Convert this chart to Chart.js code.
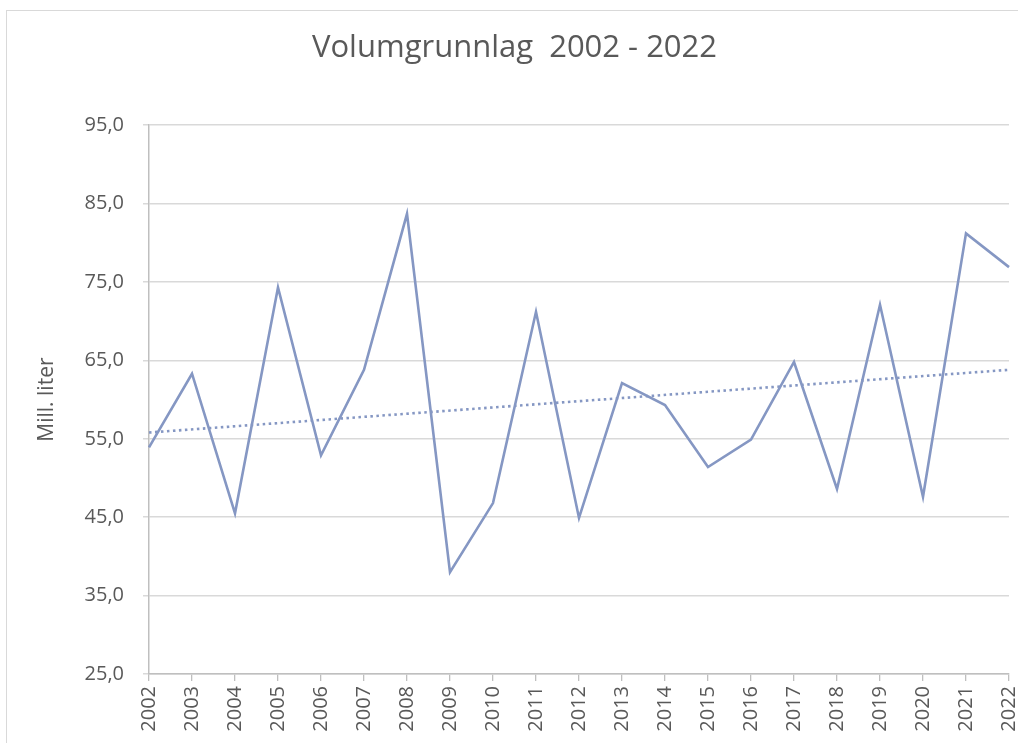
<!DOCTYPE html>
<html>
<head>
<meta charset="utf-8">
<style>
  html, body { margin: 0; padding: 0; background: #fff; overflow: hidden; }
  #frame { position: absolute; left: 6px; top: 10px; width: 1100px; height: 800px; border: 1px solid #d9d9d9; }
  #wrap { position: absolute; left: 0; top: 0; width: 1018px; height: 743px; }
</style>
</head>
<body>
<div id="frame"></div>
<div id="wrap">
  <canvas id="chart"></canvas>
</div>

<script src="https://cdn.jsdelivr.net/npm/chart.js"></script>

<script>
  const years = ['2002', '2003', '2004', '2005', '2006', '2007', '2008', '2009', '2010', '2011',
    '2012', '2013', '2014', '2015', '2016', '2017', '2018', '2019', '2020', '2021', '2022']
  const volume = [53.9, 63.3, 45.5, 74.3, 52.9, 63.8, 83.7, 38.0, 46.8, 71.2,
    44.9, 62.1, 59.3, 51.4, 54.9, 64.8, 48.6, 72.1, 47.6, 81.2, 76.9]
  // trend line ends (2002 and 2022)
  const trendEnds = [55.8, 63.8]

  const lineColor = '#8597c3'
  const textColor = '#595959'
  const font = 'Open Sans'

  const trend = years.map((y, i) =>
    i === 0 ? trendEnds[0] : (i === years.length - 1 ? trendEnds[1] : null))

  new Chart(document.getElementById('chart'), {
    type: 'line',
    data: {
      labels: years,
      datasets: [
        {
          label: 'Volum',
          data: volume,
          borderColor: lineColor,
          borderWidth: 2.6,
          pointRadius: 0,
          tension: 0,
          fill: false
        },
        {
          label: 'Trend',
          data: trend,
          spanGaps: true,
          borderColor: lineColor,
          borderWidth: 2.6,
          borderDash: [2.5, 3.5],
          pointRadius: 0,
          fill: false
        }
      ]
    },
    options: {
      responsive: true,
      maintainAspectRatio: false,
      animation: false,
      layout: { padding: { left: 20, right: 9, top: 0, bottom: 0 } },
      plugins: {
        legend: { display: false },
        tooltip: { enabled: false },
        title: {
          display: true,
          text: 'Volumgrunnlag  2002 - 2022',
          color: textColor,
          font: { family: font, size: 31, weight: 'normal' },
          padding: { top: 30, bottom: 58 }
        }
      },
      scales: {
        x: {
          offset: false,
          grid: { drawOnChartArea: false, drawTicks: true, tickLength: 7, color: '#bfbfbf', lineWidth: 1.3 },
          border: { color: '#bfbfbf', width: 1.5 },
          ticks: {
            color: textColor,
            font: { family: font, size: 20 },
            minRotation: 90,
            maxRotation: 90,
            padding: 5,
            autoSkip: false
          },
          afterFit: s => { s.height = 69; s.paddingLeft = 0; s.paddingRight = 0 }
        },
        y: {
          min: 25,
          max: 95,
          grid: { color: '#d9d9d9', lineWidth: 1.5, tickLength: 6 },
          border: { color: '#bfbfbf', width: 1.5 },
          ticks: {
            stepSize: 10,
            color: textColor,
            font: { family: font, size: 20 },
            padding: 19,
            callback: v => v.toFixed(1).replace('.', ',')
          },
          title: {
            display: true,
            text: 'Mill. liter',
            color: textColor,
            font: { family: font, size: 21 },
            padding: { top: 14, bottom: 0 }
          },
          afterFit: s => { s.width = 129 }
        }
      }
    }
  })
</script>
</body>
</html>
